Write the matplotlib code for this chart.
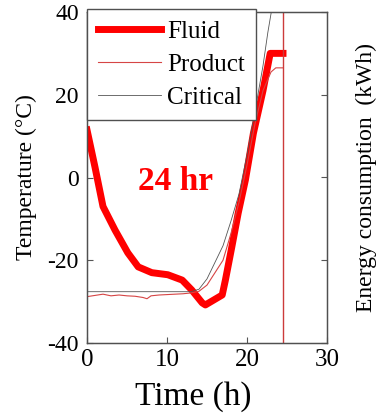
import matplotlib
matplotlib.use('Agg')
from matplotlib import pyplot as plt

plt.rcParams['font.family'] = ['Liberation Serif', 'DejaVu Serif']
plt.rcParams['axes.unicode_minus'] = False

# time (h) / temperature (C)
fluid_t = [0, 1, 2, 3.5, 5.1, 6.4, 8.1, 10.1, 11.9, 13.1, 14.4, 14.8, 16.9, 17.3,
           18.1, 18.9, 19.8, 20.8, 22, 22.9, 24.5]
fluid_T = [11.5, 2.5, -7, -12.7, -18.2, -21.6, -23, -23.5, -24.8, -27.2, -30.3, -30.8,
           -28.4, -24.8, -16.8, -8.6, -0.6, 10.7, 21, 30, 30]

product_t = [0, 1, 2, 3, 4, 5, 6, 7, 7.5, 8, 9, 10, 11, 12, 13, 14, 15, 16, 17, 18,
             19, 20, 21, 22, 23, 23.6, 24.5]
product_T = [-28.8, -28.5, -28.2, -28.6, -28.4, -28.6, -28.7, -29.0, -29.3, -28.6,
             -28.4, -28.3, -28.2, -28.1, -27.9, -27.5, -26, -23, -20, -13.5, -6, 3,
             13, 21, 25.5, 26.5, 26.5]

critical_t = [0, 13, 14, 15, 16, 17, 18, 19, 20, 21, 22, 22.6, 23.3]
critical_T = [-27.6, -27.6, -27, -24.5, -20.5, -16.5, -10.5, -4, 5.5, 16, 27, 35, 43]

end_time = 24.5
x_ticks = [0, 10, 20, 30]
y_ticks = [-40, -20, 0, 20, 40]

fig = plt.figure(figsize=(3.78, 4.16), dpi=100)
ax = fig.add_axes([87/378, 1-343/416, 240/378, 331/416])

ax.plot(fluid_t, fluid_T, '-', color='red', lw=5, solid_joinstyle='round', label='Fluid')
ax.plot(product_t, product_T, '-', color='#d64545', lw=0.8, label='Product')
ax.plot(critical_t, critical_T, '-', color='#555555', lw=0.6, label='Critical')
ax.axvline(x=end_time, color='#cc3b3b', lw=1)

ax.set_xlim(0, 30)
ax.set_ylim(-40, 40)
ax.set_xticks(x_ticks)
ax.set_yticks(y_ticks)
ax.tick_params(axis='y', direction='in', length=4, pad=6, labelsize=17, color='#555555')
ax.tick_params(axis='x', direction='in', length=4, pad=4, labelsize=18, color='#555555')
for sp in ax.spines.values():
    sp.set_color('#505050')
    sp.set_linewidth(1)

# right axis (no labels)
ax2 = ax.twinx()
ax2.set_ylim(0, 4)
ax2.set_yticks([0, 1, 2, 3, 4])
ax2.set_yticklabels([])
ax2.tick_params(axis='y', direction='in', length=4, color='#555555')
for sp in ax2.spines.values():
    sp.set_color('#505050')

ax.text(11, -1, '24 hr', color='red', fontsize=24, fontweight='bold', ha='center', va='center')

leg = ax2.legend(*ax.get_legend_handles_labels(), loc='upper left',
                 bbox_to_anchor=(87/378, 1-9/416), bbox_transform=fig.transFigure,
                 fontsize=18, frameon=True, fancybox=False, framealpha=1,
                 borderaxespad=0, borderpad=0.45, handlelength=2.5, handletextpad=0.25,
                 labelspacing=0.42)
leg.get_frame().set_edgecolor('#505050')
leg.get_frame().set_linewidth(1)

fig.text(193/378, 1-397/416, 'Time (h)', fontsize=24, ha='center', va='center')
fig.text(26/378, 1-177/416, 'Temperature (\u00b0C)', fontsize=17, rotation=90, ha='center', va='center')
fig.text(366/378, 1-177/416, 'Energy consumption  (kWh)', fontsize=17, rotation=90, ha='center', va='center')

fig.savefig('out.png', dpi=100)
